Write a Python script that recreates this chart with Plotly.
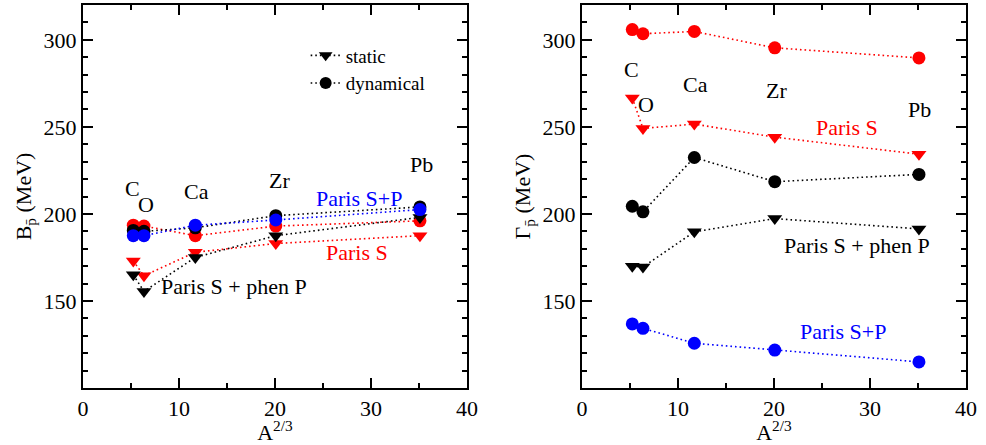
import plotly.graph_objects as go

# ---------------- data ----------------
nuclei = ["C", "O", "Ca", "Zr", "Pb"]
x_A23 = [5.24, 6.35, 11.70, 20.08, 35.10]

# left panel: B_pbar (MeV)
B_stat_parisS = [173.0, 164.5, 178.0, 183.0, 187.5]
B_dyn_parisS = [193.5, 193.0, 187.5, 193.0, 196.0]
B_stat_phenP = [165.0, 155.5, 175.0, 187.5, 198.0]
B_dyn_phenP = [190.5, 190.0, 192.0, 199.0, 204.0]
B_dyn_parisSP = [187.5, 187.5, 193.5, 196.5, 202.5]

# right panel: Gamma_pbar (MeV)
G_dyn_parisS = [305.9, 303.5, 304.8, 295.4, 289.6]
G_stat_parisS = [266.6, 249.1, 251.6, 244.1, 234.3]
G_dyn_phenP = [204.4, 201.2, 232.4, 218.5, 222.7]
G_stat_phenP = [170.0, 169.5, 189.7, 197.3, 191.4]
G_dyn_parisSP = [136.8, 134.3, 125.7, 121.8, 115.0]

yticks = [150, 200, 250, 300]
xticks = [0, 10, 20, 30, 40]

RED, BLUE, BLACK = "#ff0000", "#0000ff", "#000000"
FONT = "Liberation Serif, Times New Roman, serif"
DASH = "1.6px,3px"

fig = go.Figure()


def add(x, y, color, symbol, xa, ya):
    fig.add_trace(go.Scatter(
        x=x, y=y, mode="lines+markers", xaxis=xa, yaxis=ya, showlegend=False,
        line=dict(color=color, width=1.6, dash=DASH),
        marker=dict(color=color, symbol=symbol, size=13, line=dict(width=0)),
        hoverinfo="skip"))


# left panel
add(x_A23, B_stat_parisS, RED, "triangle-down", "x", "y")
add(x_A23, B_dyn_parisS, RED, "circle", "x", "y")
add(x_A23, B_stat_phenP, BLACK, "triangle-down", "x", "y")
add(x_A23, B_dyn_phenP, BLACK, "circle", "x", "y")
add(x_A23, B_dyn_parisSP, BLUE, "circle", "x", "y")

# right panel
add(x_A23, G_dyn_parisS, RED, "circle", "x2", "y2")
add(x_A23, G_stat_parisS, RED, "triangle-down", "x2", "y2")
add(x_A23, G_dyn_phenP, BLACK, "circle", "x2", "y2")
add(x_A23, G_stat_phenP, BLACK, "triangle-down", "x2", "y2")
add(x_A23, G_dyn_parisSP, BLUE, "circle", "x2", "y2")

# legend entries
for name, sym in [("static", "triangle-down"), ("dynamical", "circle")]:
    fig.add_trace(go.Scatter(
        x=[None], y=[None], mode="lines+markers", name=name,
        line=dict(color=BLACK, width=1.6, dash=DASH),
        marker=dict(color=BLACK, symbol=sym, size=12)))

# text labels (position, text, colour)
left_labels = [
    (5.2, 214.5, "C", BLACK), (6.6, 205.5, "O", BLACK), (11.8, 213.0, "Ca", BLACK),
    (20.5, 219.0, "Zr", BLACK), (35.3, 228.5, "Pb", BLACK),
    (28.7, 208.7, "Paris S+P", BLUE), (28.5, 177.6, "Paris S", RED),
    (15.7, 158.3, "Paris S + phen P", BLACK),
]
right_labels = [
    (5.2, 283.0, "C", BLACK), (6.7, 263.1, "O", BLACK), (11.8, 274.6, "Ca", BLACK),
    (20.3, 270.8, "Zr", BLACK), (35.2, 260.2, "Pb", BLACK),
    (27.6, 249.6, "Paris S", RED), (28.6, 181.8, "Paris S + phen P", BLACK),
    (27.2, 132.4, "Paris S+P", BLUE),
]
for lx, ly, t, c in left_labels:
    fig.add_annotation(x=lx, y=ly, xref="x", yref="y", text=t, showarrow=False,
                       font=dict(family=FONT, size=22, color=c))
for lx, ly, t, c in right_labels:
    fig.add_annotation(x=lx, y=ly, xref="x2", yref="y2", text=t, showarrow=False,
                       font=dict(family=FONT, size=22, color=c))

axis_common = dict(
    showline=True, linecolor=BLACK, linewidth=2, mirror="allticks",
    ticks="inside", ticklen=10, tickwidth=2, tickcolor=BLACK,
    showgrid=False, zeroline=False,
    tickfont=dict(family=FONT, size=22, color=BLACK),
    automargin=False,
)
xdom_l = [83 / 986, 467 / 986]
xdom_r = [582 / 986, 966 / 986]
ydom = [1 - 388 / 445, 1 - 5 / 445]

xaxis_kw = dict(axis_common, range=[0, 40], tickvals=xticks,
                minor=dict(dtick=5, tick0=0, ticklen=5, tickwidth=2, tickcolor=BLACK, ticks="inside"),
                title=dict(text="A<sup>2/3</sup>", font=dict(family=FONT, size=22, color=BLACK), standoff=4))
yaxis_kw = dict(axis_common, range=[100, 320], tickvals=yticks,
                minor=dict(dtick=10, tick0=0, ticklen=5, tickwidth=2, tickcolor=BLACK, ticks="inside"))

fig.update_layout(
    width=986, height=445,
    margin=dict(l=0, r=0, t=0, b=0),
    paper_bgcolor="white", plot_bgcolor="white",
    xaxis=dict(xaxis_kw, domain=xdom_l, anchor="y"),
    yaxis=dict(yaxis_kw, domain=ydom, anchor="x",
               title=dict(text="B<sub>p&#772;</sub> (MeV)", font=dict(family=FONT, size=22, color=BLACK), standoff=6)),
    xaxis2=dict(xaxis_kw, domain=xdom_r, anchor="y2"),
    yaxis2=dict(yaxis_kw, domain=ydom, anchor="x2",
                title=dict(text="&#915;<sub>p&#772;</sub> (MeV)", font=dict(family=FONT, size=22, color=BLACK), standoff=6)),
    legend=dict(x=0.310, y=0.918, xanchor="left", yanchor="top", bgcolor="rgba(0,0,0,0)",
                font=dict(family=FONT, size=19, color=BLACK), tracegroupgap=0, itemwidth=30),
    font=dict(family=FONT),
)

fig.write_html("out.html")
